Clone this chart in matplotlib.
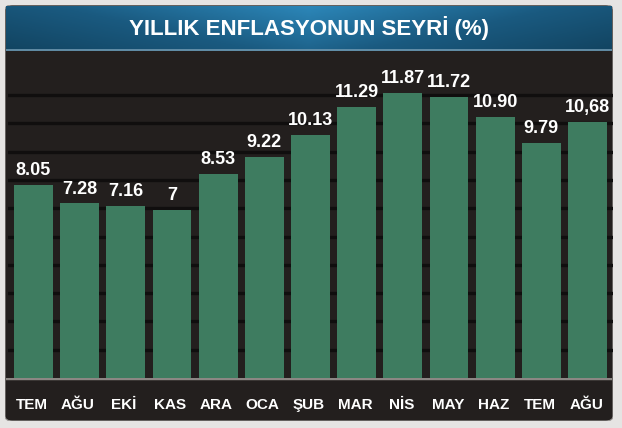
"""Yıllık enflasyonun seyri bar grafiği (TV ekranı tarzı)."""
import matplotlib
import matplotlib.pyplot as plt
import numpy as np
from matplotlib.colors import LinearSegmentedColormap
from matplotlib.patches import FancyBboxPatch

matplotlib.use("Agg")

DPI = 100
WIDTH_PX, HEIGHT_PX = 622, 428
FIGSIZE = (WIDTH_PX / DPI, HEIGHT_PX / DPI)

months = ["TEM", "AĞU", "EKİ", "KAS", "ARA", "OCA", "ŞUB",
          "MAR", "NİS", "MAY", "HAZ", "TEM", "AĞU"]
values = [8.05, 7.28, 7.16, 7, 8.53, 9.22, 10.13,
          11.29, 11.87, 11.72, 10.90, 9.79, 10.68]
value_labels = ["8.05", "7.28", "7.16", "7", "8.53", "9.22", "10.13",
                "11.29", "11.87", "11.72", "10.90", "9.79", "10,68"]
title = "YILLIK ENFLASYONUN SEYRİ (%)"

plt.rcParams["font.family"] = ["Liberation Sans", "DejaVu Sans"]

BG = "#e6e4e3"
PANEL = "#231f1e"
GRID = "#100e0e"
BAR = "#3e7c60"
STRIP = "#2a2523"


def px(x0, y0, x1, y1):
    """ピクセル座標 (左上原点) -> figure座標の [left, bottom, w, h]"""
    return [x0 / WIDTH_PX, 1 - y1 / HEIGHT_PX, (x1 - x0) / WIDTH_PX, (y1 - y0) / HEIGHT_PX]


fig = plt.figure(figsize=FIGSIZE, dpi=DPI, facecolor=BG)

# 外枠のパネル
frame = fig.add_axes(px(5, 5, 613, 421))
frame.set_xlim(0, 1)
frame.set_ylim(0, 1)
frame.axis("off")
frame.add_patch(FancyBboxPatch((0, 0), 1, 1, boxstyle="round,pad=0,rounding_size=0.012",
                               facecolor=PANEL, edgecolor="#9a9694", linewidth=0.8,
                               transform=frame.transAxes))

# タイトル帯（青のグラデーション）
tax = fig.add_axes(px(6, 6, 612, 51))
grad = np.abs(np.linspace(-1, 1, 256))[None, :]
vgrad = np.linspace(0.0, 1.0, 32)[:, None]
banner = LinearSegmentedColormap.from_list("banner", ["#2c86b8", "#1a5a80", "#124461"])
tax.imshow(grad * 0.6 + vgrad * 0.4, cmap=banner, aspect="auto", extent=(0, 1, 0, 1))
tax.axhline(0.02, color="#6f98b0", linewidth=1.2)
tax.set_xlim(0, 1)
tax.set_ylim(0, 1)
tax.axis("off")
tax.text(0.5, 0.5, title, color="white", ha="center", va="center",
         fontsize=16, fontweight="bold")

# 棒グラフ本体
ax = fig.add_axes(px(8, 52, 613, 378))
ax.set_facecolor(PANEL)
x = np.arange(len(values))
for gy in np.arange(1.18, 12.2, 1.18):
    ax.axhline(gy, color=GRID, linewidth=2.4, zorder=1)
bars = ax.bar(x, values, width=0.84, color=BAR, zorder=2)
for bar, lab in zip(bars, value_labels):
    ax.text(bar.get_x() + bar.get_width() / 2, bar.get_height() + 0.25, lab,
            color="white", ha="center", va="bottom",
            fontsize=13, fontweight="bold", zorder=3)
ax.set_xlim(-0.55, 12.55)
ax.set_ylim(0, 13.6)
ax.axis("off")

# 月ラベルの帯
sax = fig.add_axes(px(6, 378, 612, 420), sharex=ax)
sax.set_ylim(0, 1)
sax.axhline(1, color="#8c8784", linewidth=2.5)
for xi, m in zip(x, months):
    sax.text(xi, 0.35, m, color="white", ha="center", va="center",
             fontsize=11, fontweight="bold")
sax.axis("off")

fig.savefig("out.png", dpi=DPI, facecolor=BG)
plt.close(fig)
